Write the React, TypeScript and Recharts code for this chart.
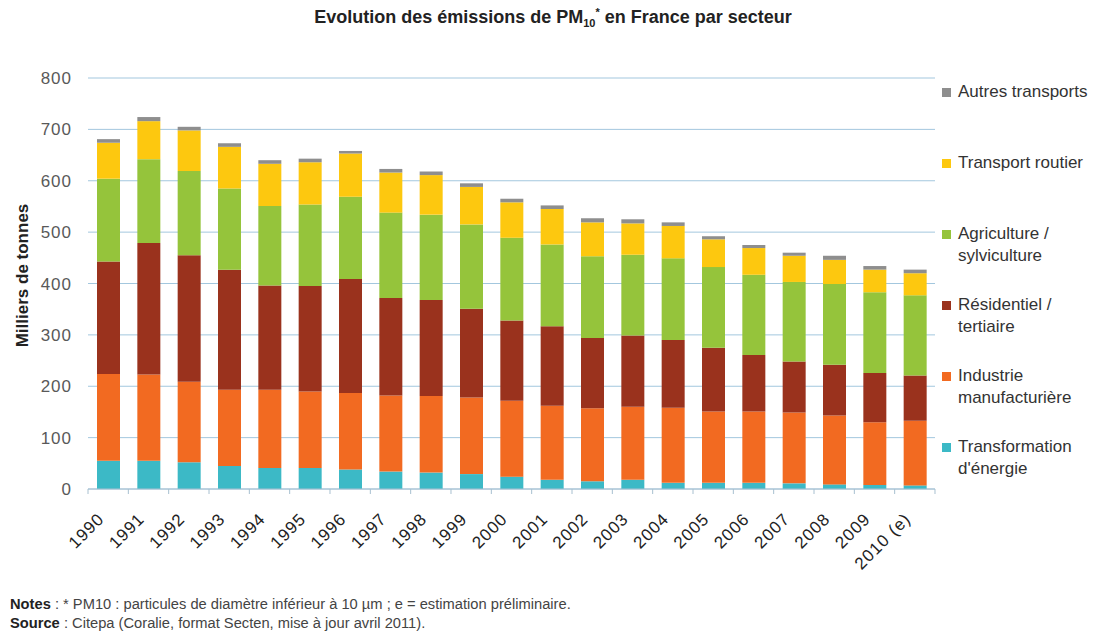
import React from 'react';
import { BarChart, Bar, XAxis, YAxis, CartesianGrid } from 'recharts';

const years = ['1990','1991','1992','1993','1994','1995','1996','1997','1998','1999','2000','2001','2002','2003','2004','2005','2006','2007','2008','2009','2010 (e)'];

const transformation = [55,55,52,45,41,41,38,34,32,29,24,18,15,18,12,12,12,11,9,8,7];
const industrie = [169,168,157,148,152,149,149,148,149,149,148,144,142,142,146,139,139,138,134,122,126];
const residentiel = [219,256,246,234,203,205,222,190,187,173,156,155,137,139,132,124,110,99,99,96,88];
const agriculture = [161,163,164,158,155,159,160,166,166,164,161,159,159,157,159,157,156,155,157,157,156];
const transportRoutier = [70,74,79,81,82,82,84,78,77,73,69,69,66,61,63,54,52,51,47,44,43];
const autresTransports = [7,8,7,7,7,7,5,7,7,7,7,7,8,8,7,6,6,6,8,7,7];

const yTicks = [0,100,200,300,400,500,600,700,800];

const series = [
  { key: 'transformation', label: "Transformation\nd'énergie", color: '#3cb9c6', values: transformation },
  { key: 'industrie', label: 'Industrie\nmanufacturière', color: '#f26a21', values: industrie },
  { key: 'residentiel', label: 'Résidentiel /\ntertiaire', color: '#9a321d', values: residentiel },
  { key: 'agriculture', label: 'Agriculture /\nsylviculture', color: '#95c43b', values: agriculture },
  { key: 'transport', label: 'Transport routier', color: '#fdc80f', values: transportRoutier },
  { key: 'autres', label: 'Autres transports', color: '#8e8e8e', values: autresTransports },
];

const data = years.map((y, i) => {
  const row: any = { year: y };
  series.forEach((s) => { row[s.key] = s.values[i]; });
  return row;
});

const W = 1096;
const H = 634;
const PLOT_LEFT = 88;
const PLOT_RIGHT = 935;
const PLOT_TOP = 78;
const PLOT_BOTTOM = 489;
const BAND = (PLOT_RIGHT - PLOT_LEFT) / years.length;
const FONT = '"Liberation Sans", Arial, sans-serif';

const XTick = (props: any) => {
  const { x, y, payload, index } = props;
  const last = index === years.length - 1;
  return (
    <g transform={`translate(${x},${y})`}>
      <line x1={-BAND / 2} x2={-BAND / 2} y1={0} y2={5} stroke="#a8c0d0" />
      {last && <line x1={BAND / 2} x2={BAND / 2} y1={0} y2={5} stroke="#a8c0d0" />}
      <text
        x={0}
        y={0}
        transform="translate(-3,31) rotate(-45)"
        textAnchor="end"
        fontSize={17}
        letterSpacing={1}
        fontFamily={FONT}
        fill="#222"
      >
        {payload.value}
      </text>
    </g>
  );
};

const YLabel = (props: any) => {
  const { viewBox } = props;
  const cy = viewBox.y + viewBox.height / 2 - 8;
  return (
    <text
      x={22}
      y={cy}
      transform={`rotate(-90, 22, ${cy})`}
      textAnchor="middle"
      dominantBaseline="central"
      fontSize={17}
      fontWeight="bold"
      fontFamily={FONT}
      fill="#222"
    >
      Milliers de tonnes
    </text>
  );
};

const LegendBox = () => (
  <div style={{ position: 'absolute', left: 942, top: 81, width: 154, fontFamily: FONT, fontSize: 17, color: '#333' }}>
    {[...series].reverse().map((s) => (
      <div key={s.key} style={{ height: 71, position: 'relative' }}>
        <div
          style={{
            position: 'absolute',
            left: 0,
            top: 7,
            width: 9,
            height: 9,
            background: s.color,
          }}
        />
        <div style={{ position: 'absolute', left: 16, top: 0, lineHeight: '22px', whiteSpace: 'pre-line' }}>
          {s.label}
        </div>
      </div>
    ))}
  </div>
);

export default function App() {
  return (
    <div style={{ position: 'absolute', left: 0, top: 0, width: W, height: H, background: '#fff' }}>
      <svg width={W} height={40} style={{ position: 'absolute', left: 0, top: 0 }}>
        <text x={553} y={23} textAnchor="middle" fontFamily={FONT} fontWeight="bold" fontSize={18} fill="#222">
          Evolution des émissions de PM
          <tspan fontSize={11} dy={4}>10</tspan>
          <tspan fontSize={11} dy={-11}>*</tspan>
          <tspan dy={7}> en France par secteur</tspan>
        </text>
      </svg>
      <div style={{ position: 'absolute', left: 0, top: 0 }}>
        <BarChart
          width={W}
          height={H}
          data={data}
          margin={{ top: PLOT_TOP, right: W - PLOT_RIGHT, bottom: 85, left: 0 }}
          barSize={23}
        >
          <CartesianGrid vertical={false} stroke="#a3c7de" />
          <XAxis
            dataKey="year"
            interval={0}
            tickLine={false}
            tickSize={0}
            tickMargin={0}
            height={H - PLOT_BOTTOM - 85}
            axisLine={{ stroke: '#a8c0d0' }}
            tick={<XTick />}
          />
          <YAxis
            width={PLOT_LEFT}
            domain={[0, 800]}
            ticks={yTicks}
            axisLine={false}
            tickLine={false}
            tickSize={0}
            tickMargin={16}
            tick={{ fontSize: 17, fill: '#595959', fontFamily: FONT, letterSpacing: 1 }}
            label={<YLabel />}
          />
          {series.map((s) => (
            <Bar key={s.key} dataKey={s.key} stackId="a" fill={s.color} isAnimationActive={false} />
          ))}
        </BarChart>
      </div>
      <LegendBox />
      <div
        style={{
          position: 'absolute',
          left: 10,
          top: 595,
          fontFamily: '"Liberation Sans Narrow", "Arial Narrow", sans-serif',
          fontSize: 14.7,
          lineHeight: '19px',
          color: '#444',
          whiteSpace: 'nowrap',
        }}
      >
        <div><b style={{ color: '#222' }}>Notes</b> : * PM10 : particules de diamètre inférieur à 10 µm ; e = estimation préliminaire.</div>
        <div><b style={{ color: '#222' }}>Source</b> : Citepa (Coralie, format Secten, mise à jour avril 2011).</div>
      </div>
    </div>
  );
}
